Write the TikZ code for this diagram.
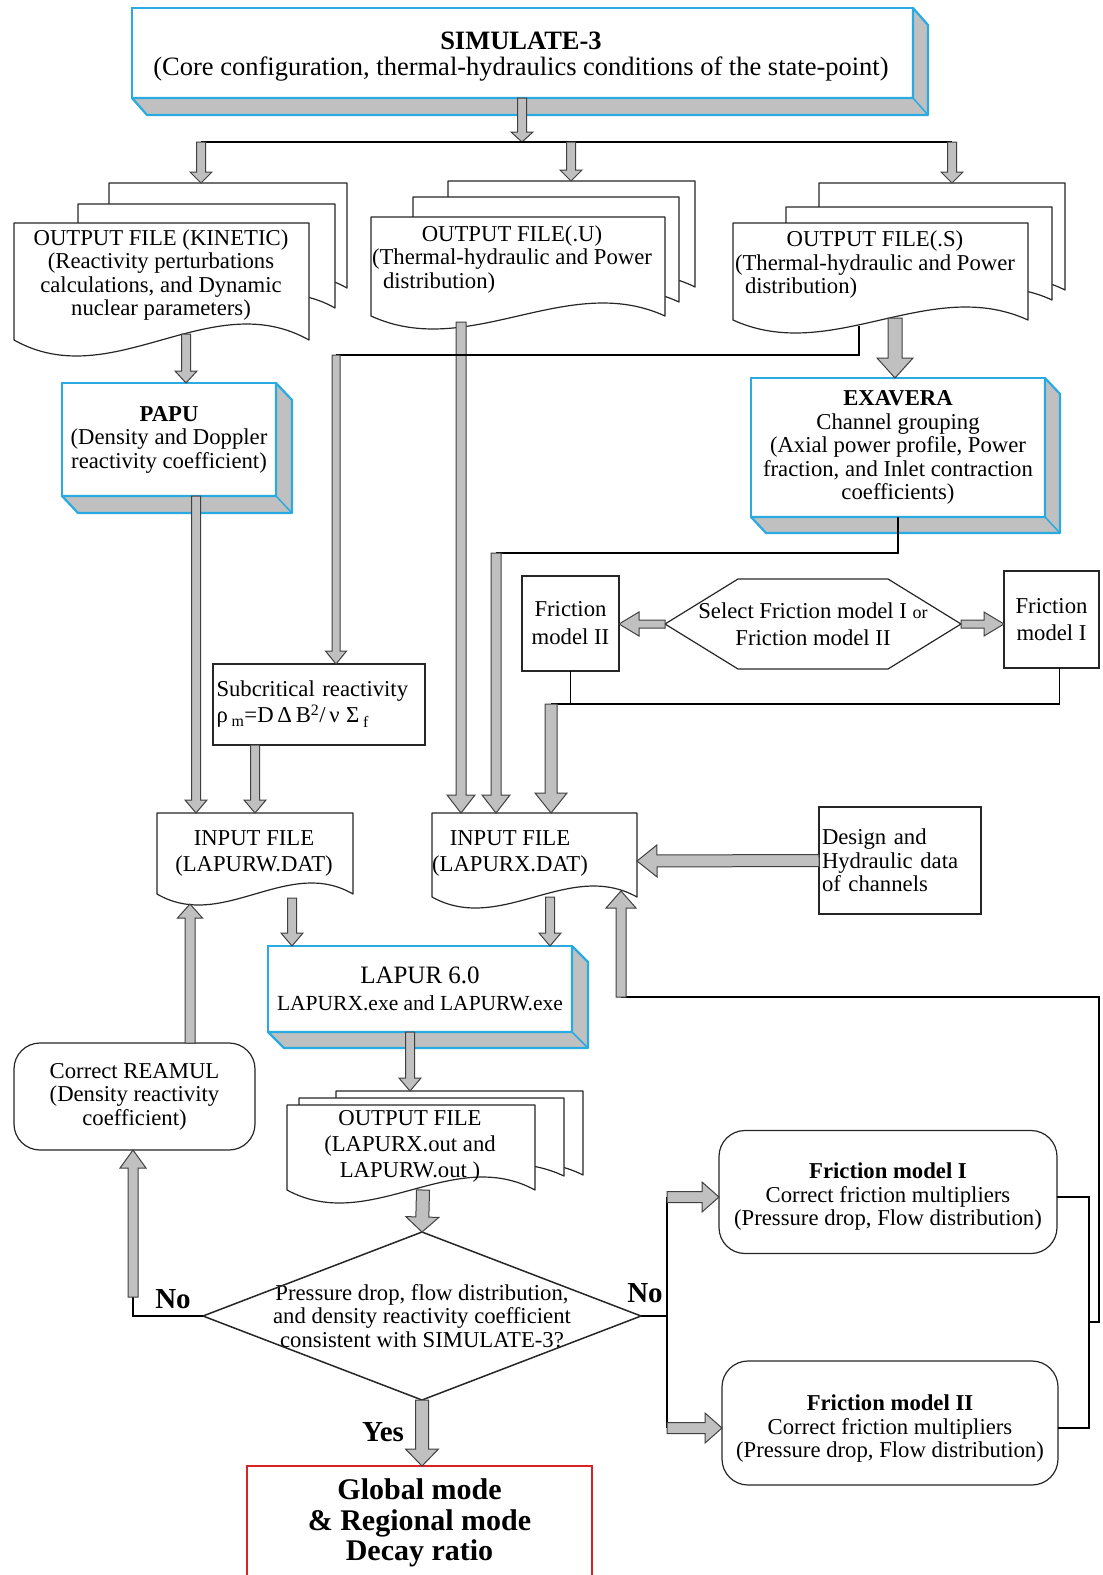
\documentclass[tikz,border=0pt]{standalone}
\usepackage{fontspec}
\setmainfont{Liberation Serif}
\usetikzlibrary{calc}
\definecolor{cyanc}{RGB}{41,171,226}
\definecolor{shadgray}{RGB}{192,192,192}
\definecolor{arrgray}{RGB}{192,192,192}
\definecolor{redc}{RGB}{215,35,35}
\newcommand\myfs[2]{\fontsize{#1}{#2}\selectfont}
\newcommand\garrow[5]{%
  \path let \p1=(#1), \p2=(#2), \n1={veclen(\x2-\x1,\y2-\y1)}, \n2={atan2(\y2-\y1,\x2-\x1)} in
    \pgfextra{\xdef\gLen{\n1}\xdef\gAng{\n2}\xdef\gX{\x1}\xdef\gY{\y1}};
  \filldraw[garrowstyle, shift={(\gX,\gY)}, rotate=\gAng]
    (0,-#3) -- ({\gLen-#5},-#3) -- ({\gLen-#5},-#4) -- (\gLen,0) -- ({\gLen-#5},#4) -- ({\gLen-#5},#3) -- (0,#3) -- cycle;
}
\newcommand\shadowbox[3]{%
  \filldraw[fill=shadgray, draw=cyanc, line width=2.2pt, line join=round]
    (#1.south west) -- ++(#2,#3) -- ($(#1.south east)+(#2,#3)$) -- ($(#1.north east)+(#2,#3)$)
    -- (#1.north east) -- (#1.south east) -- cycle;
  \draw[cyanc, line width=1.5pt] (#1.south east) -- ++(#2,#3);
}
\newcommand\docpath[5]{%
  \filldraw[docstyle] (#1,#2) -- (#3,#2) -- (#3,#4)
    .. controls ({#3-(#3-#1)/3},{#4-3.46*#5}) and ({#1+(#3-#1)/3},{#4+3.46*#5}) .. (#1,#4) -- cycle;
}
\begin{document}
\begin{tikzpicture}[x=1pt,y=-1pt,
  every node/.style={font=\myfs{22.7}{23.5}, inner sep=0pt, outer sep=0pt},
  cyanbox/.style={draw=cyanc, line width=2.2pt, fill=white, align=center},
  plainbox/.style={draw=black!85, line width=1.2pt, fill=white},
  roundbox/.style={plainbox, rounded corners=26pt},
  docstyle/.style={draw=black!85, line width=1.2pt, fill=white, line join=round},
  conn/.style={draw=black, line width=1.7pt},
  garrowstyle/.style={fill=arrgray, draw=black!75, line width=1pt, line join=miter},
  lbl/.style={font=\myfs{29}{30}\bfseries}
]
\useasboundingbox (0,0) rectangle (1103,1575);

% ---------- SIMULATE-3 ----------
\node[cyanbox, minimum width=781, minimum height=90] (sim) at (522.5,53) {};
\shadowbox{sim}{15}{17}
\node[align=center, font=\myfs{26.5}{26}] (simt) at (521,56.5)
  {\textbf{SIMULATE-3}\\(Core configuration, thermal-hydraulics conditions of the state-point)};

\coordinate (split) at (522,142);
\coordinate (sL) at (201,142);
\coordinate (sM) at (571,142);
\coordinate (sR) at (952,142);
\coordinate (kintop) at (201,183);
\coordinate (utop) at (571,181);
\coordinate (stop) at (952,183);

% ---------- output files ----------
\docpath{109}{183}{347}{288}{13}
\docpath{78}{204}{335}{308}{14}
\docpath{14}{223}{309}{340}{16}
\node[align=center] (kin) at (161,275)
  {OUTPUT FILE (KINETIC)\\(Reactivity perturbations\\calculations, and Dynamic\\nuclear parameters)};

\docpath{448}{181}{695}{287}{12}
\docpath{413}{197}{679}{302}{12}
\docpath{371}{217}{665}{316}{13}
\node[align=left, anchor=west] (outu) at (372,259.5)
  {\makebox[280pt][c]{OUTPUT FILE(.U)}\\(Thermal-hydraulic and Power\\\hspace*{11pt}distribution)};

\docpath{819}{183}{1065}{290}{12}
\docpath{786}{207}{1052}{300}{12}
\docpath{733}{223}{1028}{320}{13}
\node[align=left, anchor=west] (outs) at (735,265)
  {\makebox[280pt][c]{OUTPUT FILE(.S)}\\(Thermal-hydraulic and Power\\\hspace*{10pt}distribution)};

% ---------- PAPU / EXAVERA ----------
\node[cyanbox, minimum width=214, minimum height=113] (papu) at (169,439.5)
  {\textbf{PAPU}\\(Density and Doppler\\reactivity coefficient)};
\shadowbox{papu}{16}{17}

\node[cyanbox, minimum width=294, minimum height=139] (exa) at (898,447.5)
  {\textbf{EXAVERA}\\Channel grouping\\(Axial power profile, Power\\fraction, and Inlet contraction\\coefficients)};
\shadowbox{exa}{15}{16}

% ---------- friction selection ----------
\node[plainbox, minimum width=97, minimum height=95, align=center, font=\myfs{22.7}{28}] (fm2s) at (570.5,623.5) {Friction\\model II};
\node[plainbox, minimum width=95, minimum height=97, align=center, font=\myfs{22.7}{27}] (fm1s) at (1051.5,619.5) {Friction\\model I};
\node[minimum width=296, minimum height=90, align=center, font=\myfs{22.7}{27}] (sel) at (813,624)
  {Select Friction model I {\myfs{18}{20}or}\\Friction model II};
\draw[black!85, line width=1.2pt] (sel.west) -- ($(sel.north west)+(73,0)$) -- ($(sel.north east)+(-73,0)$)
  -- (sel.east) -- ($(sel.south east)+(-73,0)$) -- ($(sel.south west)+(73,0)$) -- cycle;

% ---------- subcritical ----------
\node[plainbox, minimum width=212, minimum height=81, text width=205, align=left, font=\myfs{22.7}{26}] (sub) at (319,704.5)
  {Subcritical reactivity\\ρ\,\textsubscript{m}=D\,Δ\,B\textsuperscript{2}/\,ν\;Σ\,\textsubscript{f}};

% ---------- input files ----------
\docpath{157}{813}{353}{894}{11}
\node[align=center, font=\myfs{22.7}{26}] (inw) at (254,853) {INPUT FILE\\(LAPURW.DAT)};
\docpath{432}{813}{637}{897}{11}
\node[align=center, font=\myfs{22.7}{26}] (inx) at (510,853) {INPUT FILE\\(LAPURX.DAT)};
\coordinate (inwtop) at (254,813);
\coordinate (inxtop) at (510,813);
\coordinate (inxright) at (637,861);

\node[plainbox, minimum width=162, minimum height=107, text width=156, align=left] (des) at (900,860.5)
  {Design and\\Hydraulic data\\of channels};

% ---------- LAPUR ----------
\node[cyanbox, minimum width=304, minimum height=86] (lap) at (420,989)
  {{\myfs{25}{28}LAPUR 6.0}\\[3pt]{\myfs{21.5}{23}LAPURX.exe and LAPURW.exe}};
\shadowbox{lap}{16}{16}

\node[roundbox, minimum width=241, minimum height=107, align=center] (rea) at (134.5,1096.5)
  {Correct REAMUL\\(Density reactivity\\coefficient)};

\docpath{336}{1091}{583}{1175}{12}
\docpath{299}{1098}{564}{1176}{12}
\docpath{287}{1105}{535}{1190}{13}
\node[align=center, font=\myfs{22.7}{26}] (outl) at (410,1146) {OUTPUT FILE\\(LAPURX.out and\\LAPURW.out )};

% ---------- decision ----------
\node[minimum width=438, minimum height=168, align=center] (dia) at (422,1316)
  {Pressure drop, flow distribution,\\and density reactivity coefficient\\consistent with SIMULATE-3?};
\draw[black!85, line width=1.5pt, line join=miter] (dia.north) -- (dia.east) -- (dia.south) -- (dia.west) -- cycle;

\node[roundbox, minimum width=338, minimum height=123] (fmI) at (888,1192) {};
\node[align=center] (fmIt) at (888,1197)
  {\textbf{Friction model I}\\Correct friction multipliers\\(Pressure drop, Flow distribution)};
\node[roundbox, minimum width=336, minimum height=124] (fmII) at (890,1423) {};
\node[align=center] (fmIIt) at (890,1429)
  {\textbf{Friction model II}\\Correct friction multipliers\\(Pressure drop, Flow distribution)};

\node[align=center, minimum width=345, font=\myfs{30}{30.5}\bfseries] (res) at (419.5,1523)
  {Global mode\\\& Regional mode\\Decay ratio};
\draw[redc, line width=1.6pt] ($(res.west)+(0,-57)$) rectangle ($(res.east)+(0,70)$);
\coordinate (restop) at (422,1466);

\node[lbl] (noL) at (173,1299) {No};
\node[lbl] (noR) at (645,1293) {No};
\node[lbl] (yes) at (383,1432) {Yes};

% ---------- connectors ----------
\garrow{sim.south -| split}{split}{4.5}{11}{10}
\draw[conn] (sL) -- (sR);
\garrow{sL}{kintop}{4.5}{11}{11}
\garrow{sM}{utop}{4.5}{11}{11}
\garrow{sR}{stop}{4.5}{11}{11}

\coordinate (kinout) at (186,334);
\garrow{kinout}{papu.north -| kinout}{4.5}{11}{12}

\coordinate (uout) at (461,322);
\garrow{uout}{inxtop -| uout}{5}{14}{18}

\coordinate (sout) at (895,318);
\garrow{sout}{exa.north -| sout}{7}{18}{20}

\coordinate (sline) at (859,326);
\coordinate (sc1) at (859,355);
\coordinate (sc2) at (336,355);
\draw[conn] (sline) -- (sc1) -- (sc2);
\garrow{sc2}{sub.north -| sc2}{4}{10.5}{13}

\coordinate (papuout) at (196,496);
\garrow{papuout}{inwtop -| papuout}{4.5}{11}{13}
\coordinate (subout) at (255,745);
\garrow{subout}{inwtop -| subout}{4.5}{11}{13}

\coordinate (exj) at (496,553);
\draw[conn] (exa.south) |- (exj);
\garrow{exj}{inxtop -| exj}{5}{14}{18}

\coordinate (fj) at (551,704);
\draw[conn] ($(fm1s.south)+(8,0)$) |- (fj);
\draw[conn] (fm2s.south) -- (fm2s.south |- fj);
\garrow{fj}{inxtop -| fj}{6}{16}{20}

\garrow{sel.west}{fm2s.east |- sel.west}{4}{12}{20}
\garrow{sel.east}{fm1s.west |- sel.east}{4}{12}{20}

\garrow{des.west}{inxright}{6}{16}{20}

\coordinate (inwout) at (292,898);
\garrow{inwout}{lap.north -| inwout}{4.5}{11}{13}
\coordinate (inxout) at (550,897);
\garrow{inxout}{lap.north -| inxout}{4.5}{11}{13}

\coordinate (lapout) at (410,1032);
\coordinate (outtop) at (410,1091);
\garrow{lapout}{outtop}{4.5}{11}{13}

\coordinate (outout) at (423,1190);
\garrow{outout}{dia.north}{6.5}{16.5}{15}

\garrow{dia.south}{restop}{6.5}{16.5}{17}

\coordinate (nol) at (133,1297);
\draw[conn] (dia.west) -| (nol);
\garrow{nol}{rea.south -| nol}{5}{13}{18}

\coordinate (reaout) at (190,1043);
\coordinate (inwbot) at (190,904);
\garrow{reaout}{inwbot}{5}{12.5}{14}

\coordinate (nr) at (667,1316);
\coordinate (nr1) at (667,1197);
\coordinate (nr2) at (667,1428);
\draw[conn] (dia.east) -- (nr);
\draw[conn] (nr1) -- (nr2);
\garrow{nr1}{fmI.west |- nr1}{5.5}{15}{17}
\garrow{nr2}{fmII.west |- nr2}{5.5}{15}{17}

\coordinate (rr1) at (1089,1197);
\coordinate (rr2) at (1089,1428);
\coordinate (rm) at (1089,1322);
\coordinate (re) at (1099,1322);
\coordinate (rt) at (1099,997);
\coordinate (lb) at (621,997);
\coordinate (inxbot) at (621,891);
\draw[conn] (fmI.east |- rr1) -- (rr1) -- (rr2) -- (fmII.east |- rr2);
\draw[conn] (rm) -- (re) -- (rt) -- (lb);
\garrow{lb}{inxbot}{5}{15}{17}

\end{tikzpicture}
\end{document}
